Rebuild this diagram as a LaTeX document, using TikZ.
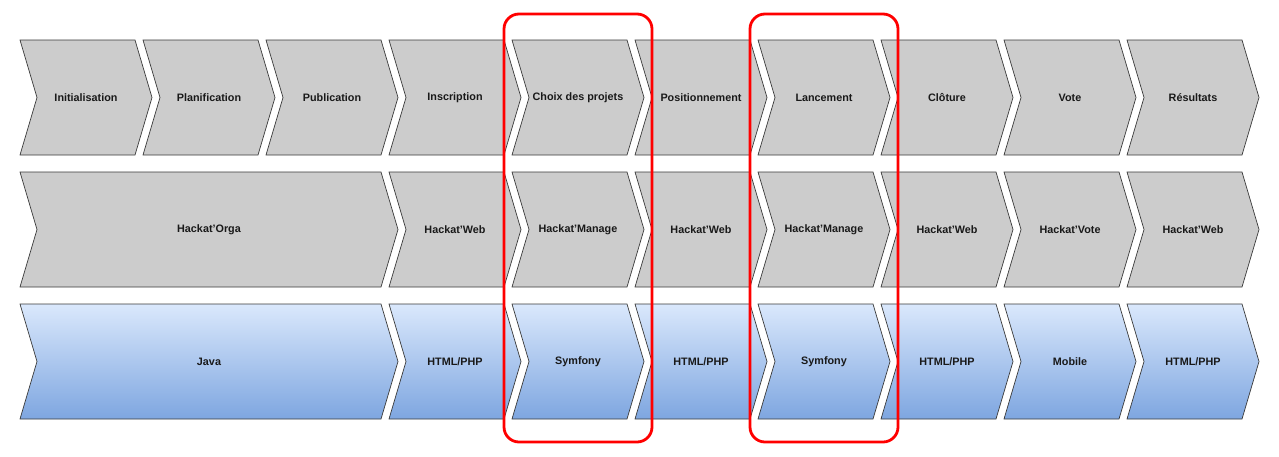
\documentclass[tikz,border=0pt]{standalone}
\usepackage{fontspec}
\setmainfont{Liberation Sans}
\definecolor{chgray}{HTML}{CCCCCC}
\definecolor{chline}{HTML}{3A3A3A}
\definecolor{bluetop}{HTML}{DAE8FC}
\definecolor{bluebot}{HTML}{7EA6E0}
\definecolor{hlred}{HTML}{FF0000}
\newcommand\chev[6]{%
  \draw[#1] (#2,#3) -- ++(#4,0) -- ++(17,57.5) -- ++(-17,57.5) -- ++(-#4,0) -- ++(17,-57.5) -- cycle;
  \node[lbl] (#5) at ({#2+(#4+17)/2},{#3+57.5}) {#6};}
\begin{document}
\begin{tikzpicture}[x=1pt,y=-1pt,
  graychev/.style={draw=chline,line width=0.7pt,fill=chgray},
  bluechev/.style={draw=chline,line width=0.7pt,top color=bluetop,bottom color=bluebot},
  lbl/.style={font=\bfseries\fontsize{10.8}{13}\selectfont,text=black!90,inner sep=0pt},
  redbox/.style={draw=hlred,line width=2.8pt,rounded corners=15pt,minimum width=148pt,minimum height=428pt,inner sep=0pt,fill=none}]
\useasboundingbox (0,0) rectangle (1279,456);
% row 1
\chev{graychev}{20}{40}{115}{r1a}{Initialisation}
\chev{graychev}{143}{40}{115}{r1b}{Planification}
\chev{graychev}{266}{40}{115}{r1c}{Publication}
\chev{graychev}{389}{40}{115}{r1d}{Inscription}
\chev{graychev}{512}{40}{115}{r1e}{Choix des projets}
\chev{graychev}{635}{40}{115}{r1f}{Positionnement}
\chev{graychev}{758}{40}{115}{r1g}{Lancement}
\chev{graychev}{881}{40}{115}{r1h}{Clôture}
\chev{graychev}{1004}{40}{115}{r1i}{Vote}
\chev{graychev}{1127}{40}{115}{r1j}{Résultats}
% row 2
\chev{graychev}{20}{172}{361}{r2a}{Hackat'Orga}
\chev{graychev}{389}{172}{115}{r2d}{Hackat'Web}
\chev{graychev}{512}{172}{115}{r2e}{Hackat'Manage}
\chev{graychev}{635}{172}{115}{r2f}{Hackat'Web}
\chev{graychev}{758}{172}{115}{r2g}{Hackat'Manage}
\chev{graychev}{881}{172}{115}{r2h}{Hackat'Web}
\chev{graychev}{1004}{172}{115}{r2i}{Hackat'Vote}
\chev{graychev}{1127}{172}{115}{r2j}{Hackat'Web}
% row 3
\chev{bluechev}{20}{304}{361}{r3a}{Java}
\chev{bluechev}{389}{304}{115}{r3d}{HTML/PHP}
\chev{bluechev}{512}{304}{115}{r3e}{Symfony}
\chev{bluechev}{635}{304}{115}{r3f}{HTML/PHP}
\chev{bluechev}{758}{304}{115}{r3g}{Symfony}
\chev{bluechev}{881}{304}{115}{r3h}{HTML/PHP}
\chev{bluechev}{1004}{304}{115}{r3i}{Mobile}
\chev{bluechev}{1127}{304}{115}{r3j}{HTML/PHP}
% highlights
\node[redbox] (hl1) at (578,228) {};
\node[redbox] (hl2) at (824,228) {};
\end{tikzpicture}
\end{document}
